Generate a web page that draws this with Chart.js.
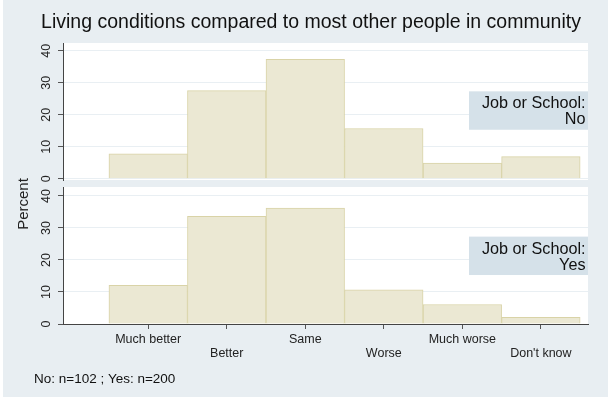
<!DOCTYPE html>
<html>
<head>
<meta charset="utf-8">
<script src="https://cdn.jsdelivr.net/npm/chart.js@4/dist/chart.umd.min.js"></script>
<style>
html,body{margin:0;padding:0;background:#ffffff;}
#wrap{position:relative;width:608px;height:400px;overflow:hidden;}
#bg{position:absolute;left:3px;top:0;width:605px;height:397px;background:#e8eef2;}
canvas{position:absolute;left:0;top:0;}
#ylab{position:absolute;left:-27px;top:196px;width:100px;height:16px;line-height:16px;text-align:center;
  font-family:"Liberation Sans",Arial,Helvetica,sans-serif;font-size:15px;font-weight:400;color:#222;
  transform:rotate(-90deg);transform-origin:50% 50%;}
</style>
</head>
<body>
<div id="wrap">
  <div id="bg"></div>
  <canvas id="c1" width="608" height="400"></canvas>
  <canvas id="c2" width="608" height="400"></canvas>
  <div id="ylab">Percent</div>
</div>
<script>
// ---- data ----
const categories = ['Much better', 'Better', 'Same', 'Worse', 'Much worse', "Don't know"];
const pctNo  = [7.8, 27.5, 37.3, 15.7, 4.9, 6.9];
const pctYes = [12.1, 33.6, 36.2, 10.7, 6.1, 2.1];
const yTicks = [0, 10, 20, 30, 40];
const panelHeading = 'Job or School:';
const panelNames = ['No', 'Yes'];
const titleText = 'Living conditions compared to most other people in community';
const noteText = 'No: n=102 ; Yes: n=200';
const yAxisTitle = 'Percent';

// ---- styling ----
const FONT = '"Liberation Sans", Arial, Helvetica, sans-serif';
Chart.defaults.font.family = FONT;
Chart.defaults.animation = false;
document.getElementById('ylab').textContent = yAxisTitle;

const BAR_FILL = '#ebe8d3';
const BAR_EDGE = '#d9d3a7';

const plotBg = {
  id: 'plotBg',
  beforeDraw(chart) {
    const {ctx, chartArea: a} = chart;
    ctx.save();
    ctx.fillStyle = '#ffffff';
    ctx.fillRect(a.left, a.top, a.right - a.left, a.bottom - a.top);
    ctx.restore();
  }
};

const panelBox = {
  id: 'panelBox',
  afterDatasetsDraw(chart, args, opts) {
    const {ctx, chartArea: a, scales: {y}} = chart;
    const top = y.getPixelForValue(27.3);
    const bot = y.getPixelForValue(15.3);
    const left = a.right - 119;
    ctx.save();
    ctx.fillStyle = '#d5e1e9';
    ctx.fillRect(left, top, a.right - left, bot - top);
    ctx.fillStyle = '#111';
    ctx.font = '16.2px ' + FONT;
    ctx.textAlign = 'right';
    ctx.textBaseline = 'alphabetic';
    ctx.fillText(panelHeading, a.right - 2.5, top + 17);
    ctx.fillText(opts.label, a.right - 2.5, top + 33);
    ctx.restore();
  }
};

function yScale(min, max) {
  return {
    type: 'linear', min: min, max: max,
    afterFit: s => { s.width = 29; },
    afterBuildTicks: s => { s.ticks = yTicks.map(v => ({value: v})); },
    ticks: {minRotation: 90, maxRotation: 90, crossAlign: 'center', padding: 5, color: '#222',
            font: {size: 12.5}},
    grid: {color: '#e9eff3', tickColor: '#555', tickLength: 5, drawTicks: true, lineWidth: 1},
    border: {display: true, color: '#444', width: 1}
  };
}

function xScale(show) {
  return {
    type: 'linear', min: -0.085, max: 6.6, display: show, offset: false,
    afterBuildTicks: s => { s.ticks = categories.map((c, i) => ({value: i + 1})); },
    afterFit: s => { if (show) s.height = 46.8; },
    ticks: {
      autoSkip: false, minRotation: 0, maxRotation: 0, padding: 4, color: '#222',
      font: {size: 12.5, lineHeight: 1.1},
      callback: v => { const i = Math.round(v) - 1; return i % 2 === 0 ? categories[i] : ['', categories[i]]; }
    },
    grid: {offset: false, drawOnChartArea: false, drawTicks: true, tickLength: 5, tickColor: '#555'},
    border: {display: true, color: '#444', width: 1}
  };
}

function dataset(values) {
  return {
    data: categories.map((c, i) => ({x: i + 1, y: values[i]})),
    backgroundColor: BAR_FILL, borderColor: BAR_EDGE, borderWidth: 1,
    barPercentage: 1, categoryPercentage: 1
  };
}

new Chart(document.getElementById('c1'), {
  type: 'bar',
  data: {datasets: [dataset(pctNo)]},
  plugins: [plotBg, panelBox],
  options: {
    responsive: false, events: [],
    layout: {padding: {left: 34, right: 20, top: 0, bottom: 220}},
    scales: {x: xScale(false), y: yScale(-0.4, 42.4)},
    plugins: {
      legend: {display: false}, tooltip: {enabled: false},
      title: {display: true, text: titleText, color: '#111', font: {size: 19.5, weight: 'normal'},
              padding: {top: 10.5, bottom: 9.1}},
      panelBox: {label: panelNames[0]}
    }
  }
});

new Chart(document.getElementById('c2'), {
  type: 'bar',
  data: {datasets: [dataset(pctYes)]},
  plugins: [plotBg, panelBox],
  options: {
    responsive: false, events: [],
    layout: {padding: {left: 34, right: 20, top: 187, bottom: 0}},
    scales: {x: xScale(true), y: yScale(0, 42.8)},
    plugins: {
      legend: {display: false}, tooltip: {enabled: false},
      subtitle: {display: true, position: 'bottom', align: 'start', text: noteText, color: '#111',
                 font: {size: 13.5, weight: 'normal'}, padding: {top: 0, bottom: 13}},
      panelBox: {label: panelNames[1]}
    }
  }
});
</script>
</body>
</html>
